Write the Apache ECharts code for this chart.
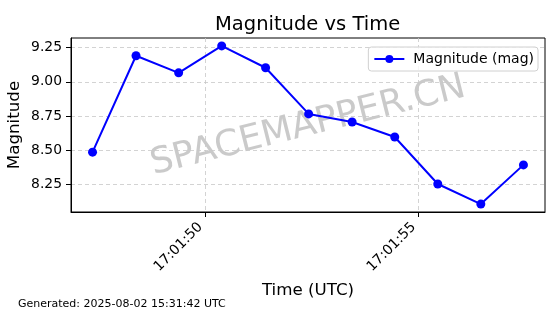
<!DOCTYPE html>
<html>
<head>
<meta charset="utf-8">
<script src="https://cdn.jsdelivr.net/npm/echarts@6/dist/echarts.min.js"></script>
<style>html,body{margin:0;padding:0;background:#fff}#c{width:560px;height:314px}</style>
</head>
<body>
<div id="c"></div>
<script>
// Timestamps (UTC, hh:mm:ss.ss)
const times = ['17:01:47.35','17:01:48.37','17:01:49.37','17:01:50.38','17:01:51.41','17:01:52.42','17:01:53.44','17:01:54.44','17:01:55.45','17:01:56.46','17:01:57.46'];
const magnitudes = [8.485, 9.191, 9.066, 9.263, 9.103, 8.765, 8.706, 8.596, 8.252, 8.105, 8.392];
const xTicks = ['17:01:50', '17:01:55'];
const yTicks = [8.25, 8.50, 8.75, 9.00, 9.25];
const seriesName = 'Magnitude (mag)';
const titleText = 'Magnitude vs Time';
const footerText = 'Generated: 2025-08-02 15:31:42 UTC';
const watermark = 'SPACEMAPPER.CN';

function toSec(t) { const p = t.split(':'); return (+p[0]) * 3600 + (+p[1]) * 60 + (+p[2]); }
function fmt(s) {
  const r = Math.round(s);
  const h = Math.floor(r / 3600), m = Math.floor((r % 3600) / 60), sec = r % 60;
  const z = n => String(n).padStart(2, '0');
  return z(h) + ':' + z(m) + ':' + z(sec);
}
const xs = times.map(toSec);
const data = xs.map((x, i) => [x, magnitudes[i]]);
const xTickVals = xTicks.map(toSec);
const xMin = xs[0] - 0.05 * (xs[xs.length - 1] - xs[0]);
const xMax = xs[xs.length - 1] + 0.05 * (xs[xs.length - 1] - xs[0]);
const yLo = Math.min(...magnitudes), yHi = Math.max(...magnitudes);
const yMin = yLo - 0.05 * (yHi - yLo), yMax = yHi + 0.05 * (yHi - yLo);

const FONT = 'DejaVu Sans';
const chart = echarts.init(document.getElementById('c'), null, { renderer: 'canvas' });
chart.setOption({
  animation: false,
  textStyle: { fontFamily: FONT },
  title: {
    text: titleText, left: 210, top: 10,
    textStyle: { fontFamily: FONT, fontSize: 19.5, fontWeight: 'normal', color: '#000' }
  },
  grid: { left: 71, right: 15, top: 38, bottom: 102, show: true, borderColor: '#000', borderWidth: 1, backgroundColor: 'transparent', outerBoundsMode: 'none', containLabel: false },
  legend: {
    right: 22, top: 47, padding: [5, 4, 5, 5],
    backgroundColor: 'rgba(255,255,255,0.8)', borderColor: '#d0d0d0', borderWidth: 1, borderRadius: 3,
    itemWidth: 30, itemHeight: 10, itemGap: 8,
    textStyle: { fontFamily: FONT, fontSize: 14, color: '#000', padding: [0, 0, 0, 4] },
    data: [seriesName]
  },
  xAxis: {
    type: 'value', min: xMin, max: xMax,
    name: 'Time (UTC)', nameLocation: 'middle', nameGap: 70, nameMoveOverlap: false,
    nameTextStyle: { fontFamily: FONT, fontSize: 16.7, color: '#000' },
    axisLine: { show: true, onZero: false, lineStyle: { color: '#000', width: 1 } },
    axisTick: { show: true, inside: false, length: 5, customValues: xTickVals, lineStyle: { color: '#000' } },
    axisLabel: { customValues: xTickVals, rotate: 45, margin: 18, verticalAlign: 'bottom', formatter: v => fmt(v), fontFamily: FONT, fontSize: 13.9, color: '#000' },
    splitLine: { show: true, lineStyle: { color: '#c8c8c8', type: [4, 3], width: 0.8 } }
  },
  yAxis: {
    type: 'value', min: yMin, max: yMax,
    name: 'Magnitude', nameLocation: 'middle', nameGap: 48, nameRotate: 90, nameMoveOverlap: false,
    nameTextStyle: { fontFamily: FONT, fontSize: 16.7, color: '#000' },
    axisLine: { show: true, onZero: false, lineStyle: { color: '#000', width: 1 } },
    axisTick: { show: true, inside: false, length: 5, customValues: yTicks, lineStyle: { color: '#000' } },
    axisLabel: { customValues: yTicks, margin: 9, formatter: v => v.toFixed(2), fontFamily: FONT, fontSize: 13.9, color: '#000' },
    splitLine: { show: true, lineStyle: { color: '#c8c8c8', type: [4, 3], width: 0.8 } }
  },
  graphic: [
    {
      type: 'text', left: 18, top: 299, silent: true,
      style: { text: footerText, fontFamily: FONT, fontSize: 11, fill: '#000' }
    },
    {
      type: 'text', x: 308, y: 126, rotation: 14 * Math.PI / 180, silent: true, z: 0,
      style: { text: watermark, fontFamily: FONT, fontSize: 36, fill: 'rgba(128,128,128,0.42)', align: 'center', verticalAlign: 'middle' }
    }
  ],
  series: [{
    name: seriesName, type: 'line', data: data, z: 5,
    symbol: 'circle', symbolSize: 9, showSymbol: true,
    itemStyle: { color: '#0000ff' },
    lineStyle: { color: '#0000ff', width: 2 }
  }]
});
</script>
</body>
</html>
